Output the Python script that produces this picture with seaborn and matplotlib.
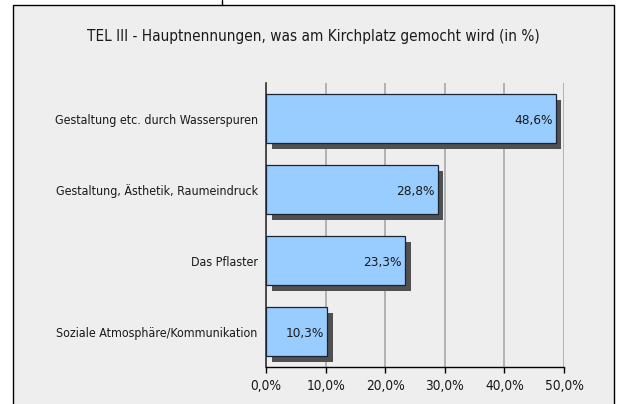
import matplotlib
matplotlib.use("Agg")
import matplotlib.pyplot as plt
import matplotlib.patheffects as pe
from matplotlib.patches import Rectangle
from matplotlib.lines import Line2D
import numpy as np
import pandas as pd
import seaborn as sns

categories = [
    "Gestaltung etc. durch Wasserspuren",
    "Gestaltung, Ästhetik, Raumeindruck",
    "Das Pflaster",
    "Soziale Atmosphäre/Kommunikation",
]
values = [48.6, 28.8, 23.3, 10.3]
x_ticks = [0, 10, 20, 30, 40, 50]
title = "TEL III - Hauptnennungen, was am Kirchplatz gemocht wird (in %)"

df = pd.DataFrame({"Kategorie": categories, "Anteil": values})

sns.set_style("white")
plt.rcParams["font.family"] = ["DejaVu Sans"]
plt.rcParams["font.stretch"] = "condensed"

fig = plt.figure(figsize=(6.17, 4.04), dpi=100)
fig.patch.set_facecolor("white")

# grey frame around the chart
fig.patches.append(Rectangle((13 / 617, -0.05), 601 / 617, 1.05 - 5 / 404,
                             transform=fig.transFigure, facecolor="#EEEEEE",
                             edgecolor="black", linewidth=1, zorder=-5))
fig.lines.append(Line2D([222 / 617, 222 / 617], [1 - 5 / 404, 1],
                        transform=fig.transFigure, color="black", linewidth=1,
                        zorder=-4))

fig.text(313 / 617, 1 - 36 / 404, title, ha="center", va="center",
         fontsize=11, color="#1a1a1a")

ax = fig.add_axes([266 / 617, 1 - 367 / 404, 298 / 617, 284 / 404])
ax.set_zorder(2)
ax.set_facecolor("none")

sns.barplot(data=df, y="Kategorie", x="Anteil", orient="h", ax=ax,
            color="#99CCFF", saturation=1, width=0.69,
            edgecolor="#1A2433", linewidth=0.9, zorder=3)

for bar in ax.patches:
    bar.set_path_effects([pe.SimplePatchShadow(offset=(4.1, -4.1),
                                               shadow_rgbFace="#505050", alpha=1),
                          pe.Normal()])

for i, v in enumerate(values):
    ax.text(v - 0.5, i + 0.03, f"{v:.1f}%".replace(".", ","), ha="right",
            va="center", fontsize=9.7, color="#1a1a1a", zorder=5)

ax.set_xlim(0, 50)
ax.set_ylim(len(categories) - 0.5, -0.5)
ax.set_xticks(x_ticks)
ax.set_xticklabels([f"{t:.1f}%".replace(".", ",") for t in x_ticks])
ax.set_yticks(range(len(categories)))
ax.set_yticks(np.arange(len(categories) + 1) - 0.5, minor=True)
ax.tick_params(axis="y", which="major", length=0, pad=6, labelsize=8.9,
               labelcolor="#1a1a1a")
ax.tick_params(axis="y", which="minor", length=5, width=1, color="black")
ax.tick_params(axis="x", which="major", length=4, width=1, color="black",
               pad=5, labelsize=9.8, labelcolor="#1a1a1a", bottom=True)
ax.set_xlabel("")
ax.set_ylabel("")

ax.xaxis.grid(True, color="#A8A8A8", linewidth=1.2, zorder=0)
ax.set_axisbelow(True)
for s in ["top", "right"]:
    ax.spines[s].set_visible(False)
ax.spines["left"].set_color("#333333")
ax.spines["bottom"].set_color("black")
ax.spines["left"].set_linewidth(1.2)
ax.spines["bottom"].set_linewidth(1)

fig.savefig("out.png", dpi=100, facecolor=fig.get_facecolor())
